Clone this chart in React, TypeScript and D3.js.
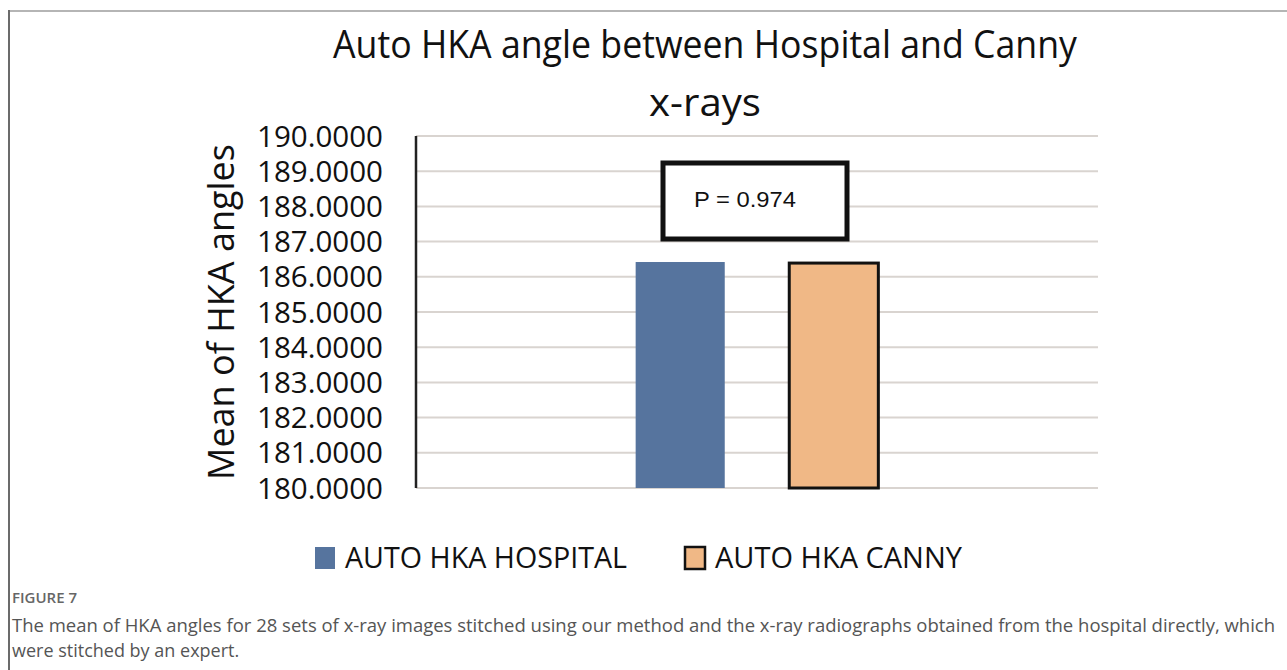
import React from "react";
import * as d3 from "d3";

const categories = ["AUTO HKA HOSPITAL", "AUTO HKA CANNY"];
const values = [186.42, 186.39];
const colors = ["#56749e", "#f0b886"];
const yTicks = [180, 181, 182, 183, 184, 185, 186, 187, 188, 189, 190];
const titleLines = ["Auto HKA angle between Hospital and Canny", "x-rays"];
const yLabel = "Mean of HKA angles";
const pText = "P = 0.974";
const figLabel = "FIGURE 7";
const captionLines = [
  "The mean of HKA angles for 28 sets of x-ray images stitched using our method and the x-ray radiographs obtained from the hospital directly, which",
  "were stitched by an expert.",
];

const CAL = "'Liberation Sans Narrow', 'Open Sans', sans-serif";

export default function App() {
  const W = 1287, H = 670;
  const plotL = 416, plotR = 1098;
  const y = d3.scaleLinear().domain([180, 190]).range([488, 136]);
  const x = d3.scaleBand().domain(categories).range([plotL, plotR]).paddingInner(0.42).paddingOuter(1.43);
  const bw = x.bandwidth();
  return (
    <svg width={W} height={H} style={{ position: "absolute", left: 0, top: 0, background: "#fff" }}>
      <rect x={0} y={0} width={W} height={H} fill="#fff" />
      <line x1={9} x2={W} y1={11} y2={11} stroke="#b5b5b5" strokeWidth={2} />
      <line x1={9} x2={9} y1={10} y2={H} stroke="#6b6b6b" strokeWidth={2} />
      {titleLines.map((t, i) => (
        <text key={i} x={705} y={58 + i * 58} textAnchor="middle" fontFamily={CAL} fontSize={39} fill="#111"
          textLength={i === 0 ? 744 : 112} lengthAdjust="spacingAndGlyphs">{t}</text>
      ))}
      {yTicks.map((t) => (
        <line key={"g" + t} x1={plotL} x2={plotR} y1={y(t)} y2={y(t)} stroke="#d9d4d0" strokeWidth={2} />
      ))}
      <line x1={plotL} x2={plotL} y1={y(190)} y2={y(180)} stroke="#222" strokeWidth={2.5} />
      {yTicks.map((t) => (
        <text key={"t" + t} x={383} y={y(t) + 10.5} textAnchor="end" fontFamily={CAL} fontSize={29} fill="#111"
          textLength={126} lengthAdjust="spacingAndGlyphs">{d3.format(".4f")(t)}</text>
      ))}
      <text transform={`translate(234,312) rotate(-90)`} textAnchor="middle" fontFamily={CAL} fontSize={36} fill="#111"
        textLength={336} lengthAdjust="spacingAndGlyphs">{yLabel}</text>
      {categories.map((c, i) => (
        <rect key={c} x={x(c)} y={y(values[i])} width={bw} height={y(180) - y(values[i])}
          fill={colors[i]} stroke={i === 1 ? "#111" : "none"} strokeWidth={3} />
      ))}
      <rect x={663} y={163} width={184} height={76} fill="#fff" stroke="#111" strokeWidth={5} />
      <text x={694} y={207} fontFamily="'Liberation Sans', Arial, sans-serif" fontSize={22} fill="#111"
        textLength={102} lengthAdjust="spacingAndGlyphs">{pText}</text>
      {categories.map((c, i) => {
        const lx = [315, 685][i];
        return (
          <g key={"l" + c}>
            <rect x={lx} y={547} width={20} height={22} fill={colors[i]} stroke={i === 1 ? "#111" : "none"} strokeWidth={2.5} />
            <text x={lx + 30} y={568} fontFamily={CAL} fontSize={30} fill="#111"
              textLength={i === 0 ? 282 : 247} lengthAdjust="spacingAndGlyphs">{c}</text>
          </g>
        );
      })}
      <text x={12} y={603} fontFamily="'Open Sans', sans-serif" fontSize={15} fontWeight={600} fill="#666"
        textLength={65} lengthAdjust="spacingAndGlyphs">{figLabel}</text>
      {captionLines.map((t, i) => (
        <text key={i} x={12} y={632 + i * 25} fontFamily="'Open Sans', sans-serif" fontSize={18} fill="#555"
          textLength={i === 0 ? 1263 : undefined} lengthAdjust="spacingAndGlyphs">{t}</text>
      ))}
    </svg>
  );
}
